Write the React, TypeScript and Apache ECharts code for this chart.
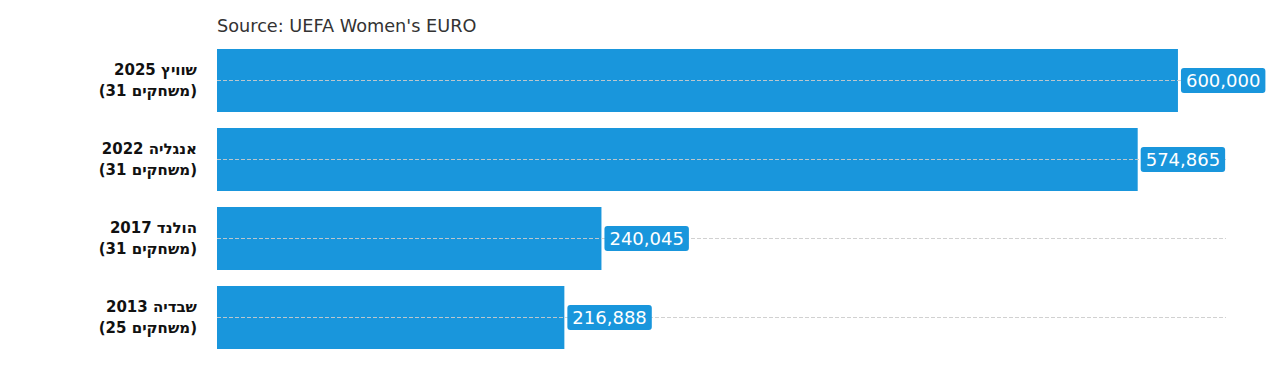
import React, { useEffect, useRef } from "react";
import * as echarts from "echarts";

const categories = [
  "שוויץ 2025\n(31 משחקים)",
  "אנגליה 2022\n(31 משחקים)",
  "הולנד 2017\n(31 משחקים)",
  "שבדיה 2013\n(25 משחקים)",
];
const attendance = [600000, 574865, 240045, 216888];
const sourceText = "Source: UEFA Women's EURO";

export default function App() {
  const ref = useRef<HTMLDivElement>(null);
  useEffect(() => {
    if (!ref.current) return;
    const chart = echarts.init(ref.current, null, { renderer: "svg" });
    chart.setOption({
      animation: false,
      title: {
        text: sourceText,
        left: 204,
        top: 4,
        textStyle: {
          fontFamily: "DejaVu Sans",
          fontSize: 17.7,
          fontWeight: "normal",
          color: "#333",
        },
      },
      grid: { left: 209, right: 46, top: 33, bottom: 19, containLabel: false },
      xAxis: {
        type: "value",
        min: 0,
        max: 630000,
        show: false,
        splitLine: { show: false },
      },
      yAxis: {
        type: "category",
        inverse: true,
        data: categories,
        axisLine: { show: false },
        axisTick: { show: false },
        splitLine: { show: false },
        axisLabel: {
          margin: 20,
          fontFamily: "DejaVu Sans",
          fontWeight: "bold",
          fontSize: 15,
          lineHeight: 21,
          color: "#111",
          align: "right",
        },
      },
      series: [
        {
          type: "bar",
          data: attendance,
          barWidth: "80%",
          z: 2,
          itemStyle: { color: "#1996dc" },
          markLine: {
            silent: true,
            z: 3,
            symbol: "none",
            label: { show: false },
            lineStyle: { color: "#ccc", type: "dashed", width: 1, opacity: 0.9 },
            data: categories.map((c) => ({ yAxis: c })),
          },
        },
        {
          type: "scatter",
          data: attendance.map((v, i) => [v, categories[i]]),
          symbolSize: 0,
          z: 10,
          silent: true,
          itemStyle: { opacity: 1, color: "#1996dc" },
          label: {
            show: true,
            position: "right",
            distance: 3,
            formatter: (p: any) => p.value[0].toLocaleString("en-US"),
            fontFamily: "DejaVu Sans",
            fontSize: 18,
            color: "#fff",
            backgroundColor: "#1996dc",
            borderRadius: 3,
            padding: [4, 5, 3, 5],
          },
        },
      ],
    });
    return () => chart.dispose();
  }, []);
  return <div ref={ref} style={{ width: 1264, height: 368 }} />;
}
